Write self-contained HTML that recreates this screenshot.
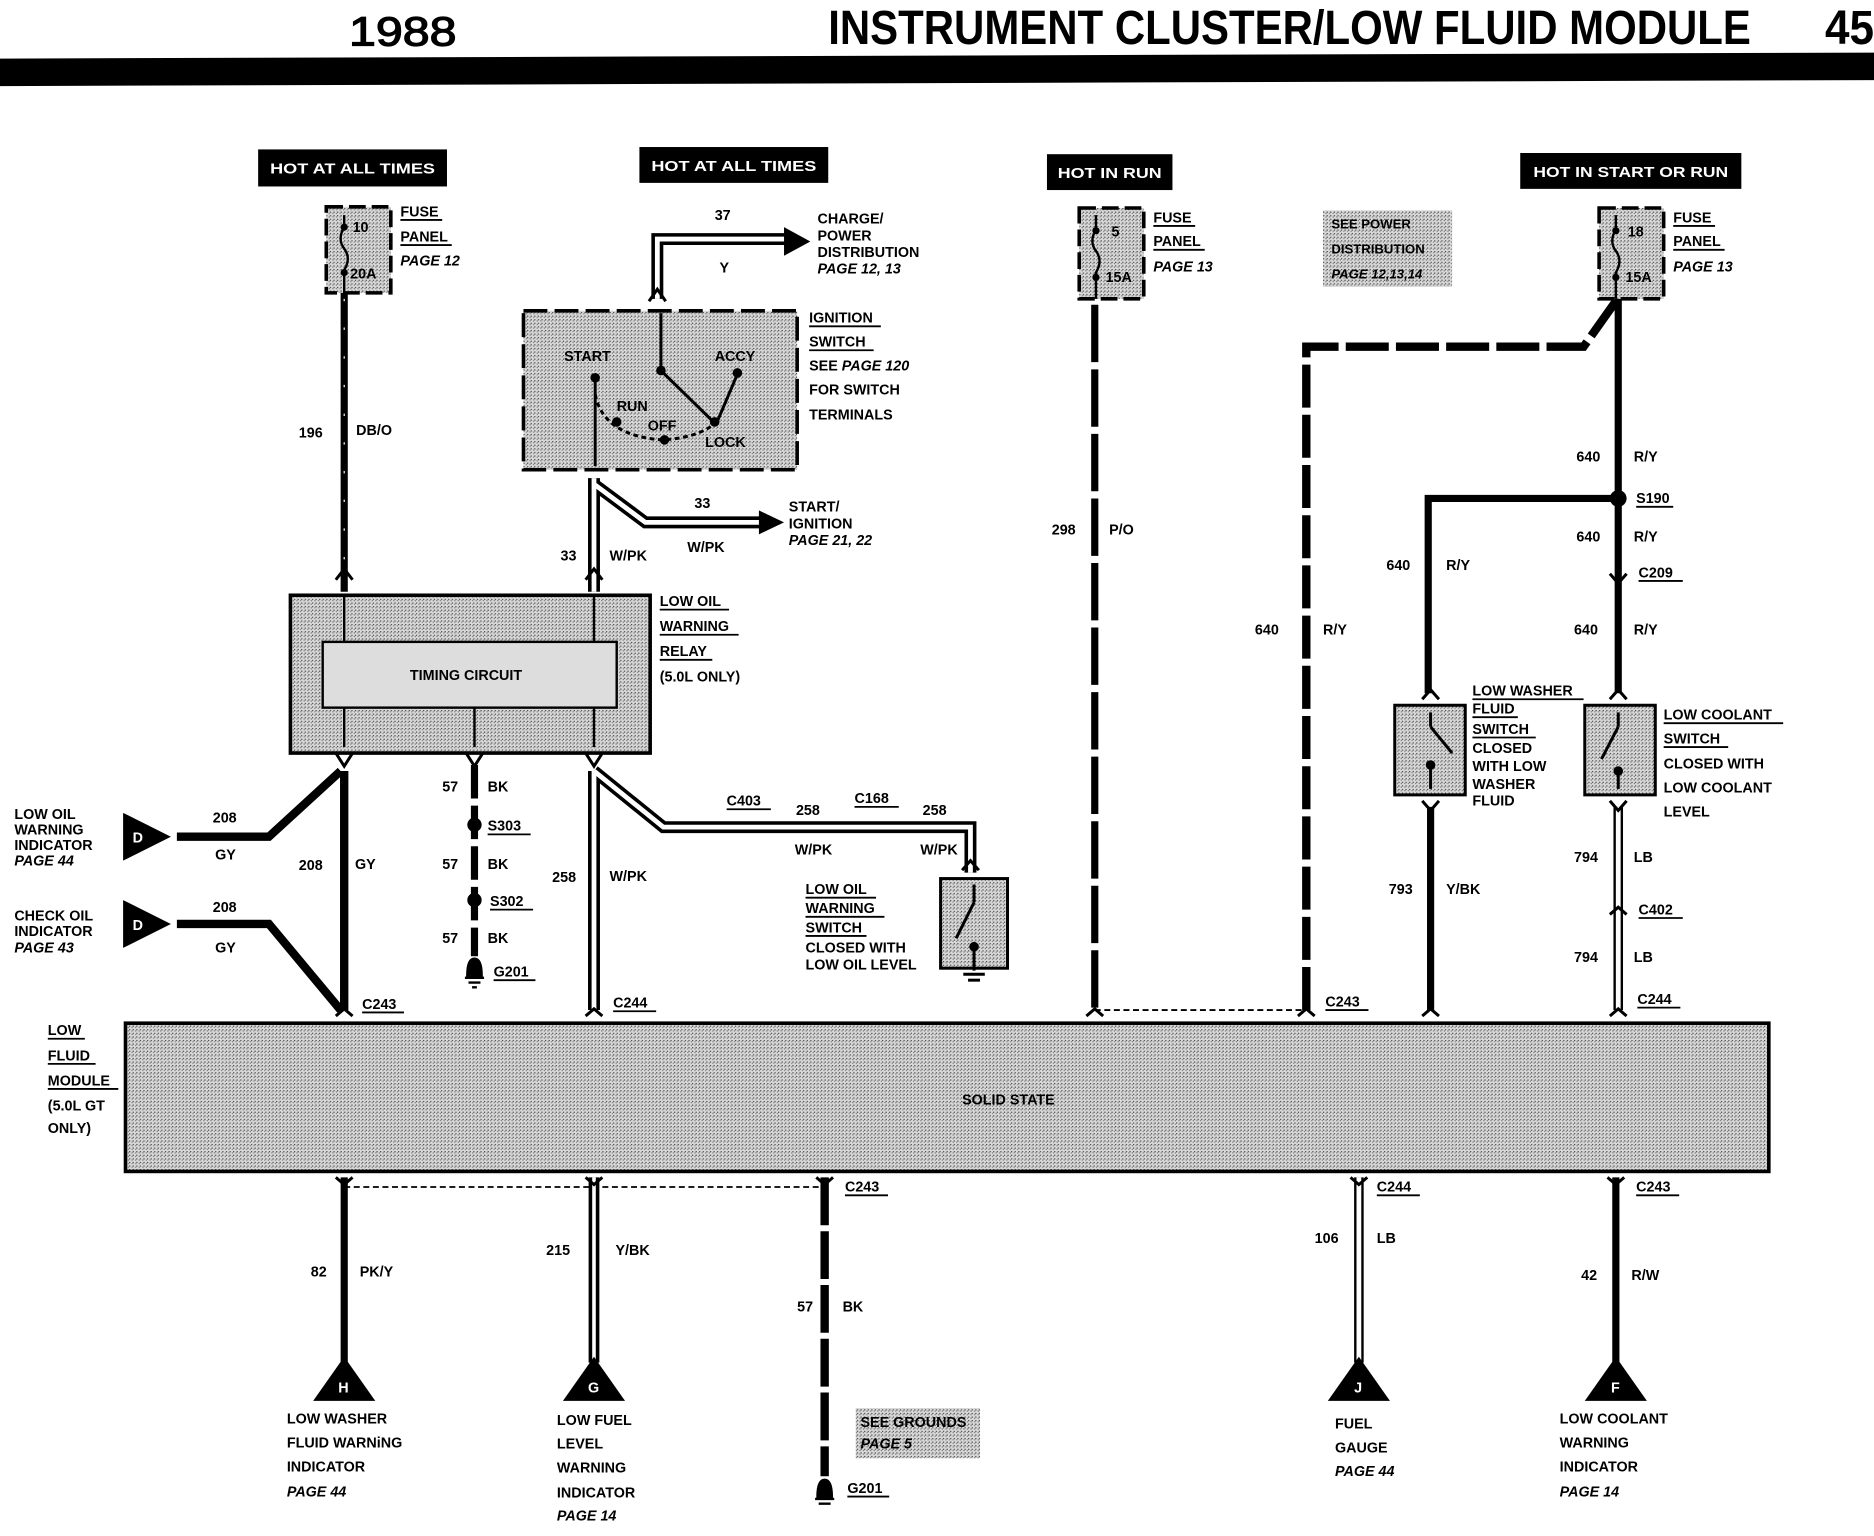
<!DOCTYPE html>
<html><head><meta charset="utf-8"><style>
html,body{margin:0;padding:0;background:#fff}
svg{display:block}
text{font-family:"Liberation Sans",sans-serif;font-weight:bold;font-size:12px;fill:#000}
.i{font-style:italic;font-weight:bold}
.w{fill:#fff}
</style></head><body>
<svg width="1874" height="1536" viewBox="0 0 1568 1285" preserveAspectRatio="none" xmlns="http://www.w3.org/2000/svg">
<defs>
<pattern id="g" width="3" height="3" patternUnits="userSpaceOnUse"><rect width="3" height="3" fill="#d8d8d8"/><rect width="1" height="1" fill="#444"/><rect x="2" y="1" width="1" height="1" fill="#777"/></pattern>
</defs>
<!-- header -->
<text x="292" y="38" style="font-size:34px;font-weight:normal" textLength="90" lengthAdjust="spacingAndGlyphs" stroke="#000" stroke-width="1">1988</text>
<text x="693" y="37" style="font-size:40px" textLength="772" lengthAdjust="spacingAndGlyphs">INSTRUMENT CLUSTER/LOW FLUID MODULE</text>
<text x="1527" y="37" style="font-size:40px" textLength="41" lengthAdjust="spacingAndGlyphs">45</text>
<polygon points="0,49 1568,44 1568,67 0,72" fill="#000"/>

<!-- source labels -->
<rect x="216" y="125" width="158" height="31" fill="#000"/><text class="w" x="226" y="145" textLength="138" lengthAdjust="spacingAndGlyphs">HOT AT ALL TIMES</text>
<rect x="535" y="123" width="158" height="30" fill="#000"/><text class="w" x="545" y="143" textLength="138" lengthAdjust="spacingAndGlyphs">HOT AT ALL TIMES</text>
<rect x="876" y="129" width="105" height="30" fill="#000"/><text class="w" x="885" y="149" textLength="87" lengthAdjust="spacingAndGlyphs">HOT IN RUN</text>
<rect x="1272" y="128" width="185" height="30" fill="#000"/><text class="w" x="1283" y="148" textLength="163" lengthAdjust="spacingAndGlyphs">HOT IN START OR RUN</text>

<!-- fuses -->
<g fill="url(#g)" stroke="#000" stroke-width="3" stroke-dasharray="14 5">
<rect x="273" y="173" width="54" height="72"/>
<rect x="903" y="174" width="54" height="76"/>
<rect x="1338" y="174" width="54" height="76"/>
</g>
<g stroke="#000" stroke-width="2" fill="none">
<path d="M288 180 v10 q-6 10 0 18 q6 8 0 18 v19"/>
<path d="M917 180 v12 q-6 10 0 18 q6 8 0 18 v22"/>
<path d="M1352 180 v12 q-6 10 0 18 q6 8 0 18 v22"/>
</g>
<g fill="#000"><circle cx="288" cy="190" r="3"/><circle cx="288" cy="228" r="3"/><circle cx="917" cy="193" r="3"/><circle cx="917" cy="232" r="3"/><circle cx="1352" cy="193" r="3"/><circle cx="1352" cy="232" r="3"/></g>
<text x="295" y="194">10</text><text x="293" y="233">20A</text>
<text x="930" y="198">5</text><text x="925" y="236">15A</text>
<text x="1362" y="198">18</text><text x="1360" y="236">15A</text>
<text x="335" y="181">FUSE</text><text x="335" y="202">PANEL</text><text class="i" x="335" y="222">PAGE 12</text>
<text x="965" y="186">FUSE</text><text x="965" y="206">PANEL</text><text class="i" x="965" y="227">PAGE 13</text>
<text x="1400" y="186">FUSE</text><text x="1400" y="206">PANEL</text><text class="i" x="1400" y="227">PAGE 13</text>
<g stroke="#000" stroke-width="1.5"><line x1="335" y1="184" x2="370" y2="184"/><line x1="335" y1="205" x2="378" y2="205"/><line x1="965" y1="189" x2="1000" y2="189"/><line x1="965" y1="209" x2="1008" y2="209"/><line x1="1400" y1="189" x2="1435" y2="189"/><line x1="1400" y1="209" x2="1443" y2="209"/></g>

<rect x="1107" y="176" width="108" height="64" fill="url(#g)"/>
<text x="1114" y="191" style="font-size:11px">SEE POWER</text><text x="1114" y="212" style="font-size:11px">DISTRIBUTION</text><text class="i" x="1114" y="233" style="font-size:11px">PAGE 12,13,14</text>

<!-- wire 196 -->
<line x1="288" y1="245" x2="288" y2="495" stroke="#000" stroke-width="6"/>
<line x1="288" y1="250" x2="288" y2="490" stroke="#fff" stroke-width="1" stroke-dasharray="2 22"/>
<text x="250" y="366">196</text><text x="298" y="364">DB/O</text>

<!-- wire 37 -->
<path d="M550 250 V200 H660" stroke="#000" stroke-width="10" fill="none"/>
<path d="M550 250 V200 H660" stroke="#fff" stroke-width="4" fill="none"/>
<polygon points="656,190 678,202 656,214" fill="#000"/>
<text x="598" y="184">37</text><text x="602" y="228">Y</text>
<text x="684" y="187">CHARGE/</text><text x="684" y="201">POWER</text><text x="684" y="215">DISTRIBUTION</text><text class="i" x="684" y="229">PAGE 12, 13</text>

<!-- ignition switch -->
<rect x="438" y="260" width="229" height="133" fill="url(#g)" stroke="#000" stroke-width="3" stroke-dasharray="20 6"/>
<g stroke="#000" stroke-width="2.5" fill="none">
<line x1="553" y1="262" x2="553" y2="310"/><line x1="553" y1="310" x2="597" y2="353"/>
<line x1="498" y1="316" x2="498" y2="390"/>
<line x1="617" y1="313" x2="600" y2="353"/>
<path d="M498 330 Q505 365 555 368 Q585 366 600 353" stroke-dasharray="4 3"/>
</g>
<g fill="#000"><circle cx="498" cy="316" r="4"/><circle cx="553" cy="310" r="4"/><circle cx="617" cy="312" r="4"/><circle cx="516" cy="353" r="4"/><circle cx="556" cy="368" r="4"/><circle cx="598" cy="353" r="4"/></g>
<text x="472" y="302">START</text><text x="598" y="302">ACCY</text><text x="516" y="344">RUN</text><text x="542" y="360">OFF</text><text x="590" y="374">LOCK</text>
<text x="677" y="270">IGNITION</text><text x="677" y="290">SWITCH</text><text x="677" y="310">SEE <tspan class="i">PAGE 120</tspan></text><text x="677" y="330">FOR SWITCH</text><text x="677" y="351">TERMINALS</text>
<g stroke="#000" stroke-width="1.5"><line x1="677" y1="273" x2="737" y2="273"/><line x1="677" y1="293" x2="731" y2="293"/></g>

<!-- wire 33 -->
<path d="M497 400 V495 M497 405 L540 437 H640" stroke="#000" stroke-width="10" fill="none"/>
<path d="M497 400 V495 M497 405 L540 437 H640" stroke="#fff" stroke-width="4" fill="none"/>
<polygon points="635,427 656,437 635,447" fill="#000"/>
<text x="581" y="425">33</text><text x="575" y="462">W/PK</text><text x="469" y="469">33</text><text x="510" y="469">W/PK</text>
<text x="660" y="428">START/</text><text x="660" y="442">IGNITION</text><text class="i" x="660" y="456">PAGE 21, 22</text>

<!-- relay -->
<rect x="243" y="498" width="301" height="132" fill="url(#g)" stroke="#000" stroke-width="3"/>
<rect x="270" y="537" width="246" height="55" fill="#ddd" stroke="#000" stroke-width="2"/>
<text x="343" y="569">TIMING CIRCUIT</text>
<g stroke="#000" stroke-width="2"><line x1="288" y1="498" x2="288" y2="537"/><line x1="497" y1="498" x2="497" y2="537"/><line x1="288" y1="592" x2="288" y2="625"/><line x1="397" y1="592" x2="397" y2="625"/><line x1="497" y1="592" x2="497" y2="625"/></g>
<text x="552" y="507">LOW OIL</text><text x="552" y="528">WARNING</text><text x="552" y="549">RELAY</text><text x="552" y="570">(5.0L ONLY)</text>
<g stroke="#000" stroke-width="1.5"><line x1="552" y1="510" x2="610" y2="510"/><line x1="552" y1="531" x2="618" y2="531"/><line x1="552" y1="552" x2="596" y2="552"/></g>

<!-- wire 208 -->
<g stroke="#000" stroke-width="7" fill="none">
<line x1="288" y1="645" x2="288" y2="845"/>
<path d="M148 700 H225 L285 645"/><path d="M148 773 H225 L285 845"/>
</g>
<polygon points="103,680 143,700 103,720" fill="#000"/><polygon points="103,753 143,773 103,793" fill="#000"/>
<text class="w" x="111" y="705">D</text><text class="w" x="111" y="778">D</text>
<text x="178" y="688">208</text><text x="180" y="719">GY</text><text x="178" y="763">208</text><text x="180" y="797">GY</text>
<text x="250" y="728">208</text><text x="297" y="727">GY</text>
<text x="12" y="685">LOW OIL</text><text x="12" y="698">WARNING</text><text x="12" y="711">INDICATOR</text><text class="i" x="12" y="724">PAGE 44</text>
<text x="12" y="770">CHECK OIL</text><text x="12" y="783">INDICATOR</text><text class="i" x="12" y="797">PAGE 43</text>
<text x="303" y="844">C243</text><line x1="303" y1="847" x2="338" y2="847" stroke="#000" stroke-width="1.5"/>

<!-- ground 57 -->
<line x1="397" y1="640" x2="397" y2="800" stroke="#000" stroke-width="6" stroke-dasharray="28 6"/>
<circle cx="397" cy="690" r="6"/><circle cx="397" cy="753" r="6"/>
<path d="M391 816 Q391 802 397 802 Q403 802 403 816 Z M389 818 h16 M392 822 h10 M395 826 h4" stroke="#000" stroke-width="2" fill="#000"/>
<text x="370" y="662">57</text><text x="408" y="662">BK</text><text x="408" y="695">S303</text>
<text x="370" y="727">57</text><text x="408" y="727">BK</text><text x="410" y="758">S302</text>
<text x="370" y="789">57</text><text x="408" y="789">BK</text><text x="413" y="817">G201</text>
<g stroke="#000" stroke-width="1.5"><line x1="408" y1="698" x2="444" y2="698"/><line x1="410" y1="761" x2="446" y2="761"/><line x1="413" y1="820" x2="448" y2="820"/></g>

<!-- wire 258 -->
<path d="M497 645 V845 M497 645 L555 692 H812 V730" stroke="#000" stroke-width="10" fill="none"/>
<path d="M497 645 V845 M497 645 L555 692 H812 V730" stroke="#fff" stroke-width="4" fill="none"/>
<text x="462" y="738">258</text><text x="510" y="737">W/PK</text>
<text x="608" y="674">C403</text><text x="666" y="682">258</text><text x="715" y="672">C168</text><text x="772" y="682">258</text>
<text x="665" y="715">W/PK</text><text x="770" y="715">W/PK</text>
<g stroke="#000" stroke-width="1.5"><line x1="608" y1="677" x2="645" y2="677"/><line x1="715" y1="675" x2="752" y2="675"/></g>
<text x="513" y="843">C244</text><line x1="513" y1="846" x2="549" y2="846" stroke="#000" stroke-width="1.5"/>
<rect x="787" y="735" width="56" height="75" fill="url(#g)" stroke="#000" stroke-width="2.5"/>
<g stroke="#000" stroke-width="2.5"><line x1="815" y1="740" x2="815" y2="755"/><line x1="815" y1="755" x2="800" y2="785"/><line x1="815" y1="790" x2="815" y2="812"/><line x1="806" y1="815" x2="824" y2="815"/><line x1="810" y1="820" x2="820" y2="820"/></g>
<circle cx="815" cy="792" r="4"/>
<text x="674" y="748">LOW OIL</text><text x="674" y="764">WARNING</text><text x="674" y="780">SWITCH</text><text x="674" y="797">CLOSED WITH</text><text x="674" y="811">LOW OIL LEVEL</text>
<g stroke="#000" stroke-width="1.5"><line x1="674" y1="751" x2="733" y2="751"/><line x1="674" y1="767" x2="740" y2="767"/><line x1="674" y1="783" x2="725" y2="783"/></g>

<!-- module -->
<rect x="105" y="856" width="1375" height="124" fill="url(#g)" stroke="#000" stroke-width="3"/>
<text x="805" y="924">SOLID STATE</text>
<text x="40" y="866">LOW</text><text x="40" y="887">FLUID</text><text x="40" y="908">MODULE</text><text x="40" y="929">(5.0L GT</text><text x="40" y="948">ONLY)</text>
<g stroke="#000" stroke-width="1.5"><line x1="40" y1="869" x2="71" y2="869"/><line x1="40" y1="890" x2="80" y2="890"/><line x1="40" y1="911" x2="99" y2="911"/></g>

<!-- wire 298 -->
<line x1="916" y1="255" x2="916" y2="845" stroke="#000" stroke-width="6" stroke-dasharray="48 6"/>
<text x="880" y="447">298</text><text x="928" y="447">P/O</text>
<line x1="916" y1="845" x2="1093" y2="845" stroke="#000" stroke-width="1.5" stroke-dasharray="5 3"/>

<!-- wire 640 dashed -->
<path d="M1093 845 V290 H1325 L1352 252" stroke="#000" stroke-width="7" fill="none" stroke-dasharray="36 6"/>
<text x="1050" y="531">640</text><text x="1107" y="531">R/Y</text>
<text x="1109" y="842">C243</text><line x1="1109" y1="845" x2="1145" y2="845" stroke="#000" stroke-width="1.5"/>

<!-- wire 640 solid -->
<line x1="1354" y1="250" x2="1354" y2="580" stroke="#000" stroke-width="6"/>
<path d="M1354 417 H1195 V580" stroke="#000" stroke-width="6" fill="none"/>
<circle cx="1354" cy="417" r="7"/>
<text x="1319" y="386">640</text><text x="1367" y="386">R/Y</text>
<text x="1369" y="421">S190</text><line x1="1369" y1="424" x2="1400" y2="424" stroke="#000" stroke-width="1.5"/>
<text x="1319" y="453">640</text><text x="1367" y="453">R/Y</text>
<text x="1371" y="483">C209</text><line x1="1371" y1="486" x2="1408" y2="486" stroke="#000" stroke-width="1.5"/>
<text x="1317" y="531">640</text><text x="1367" y="531">R/Y</text>
<text x="1160" y="477">640</text><text x="1210" y="477">R/Y</text>

<!-- switches -->
<rect x="1167" y="590" width="59" height="75" fill="url(#g)" stroke="#000" stroke-width="2.5"/>
<rect x="1326" y="590" width="59" height="75" fill="url(#g)" stroke="#000" stroke-width="2.5"/>
<g stroke="#000" stroke-width="2.5"><line x1="1197" y1="596" x2="1197" y2="608"/><line x1="1197" y1="608" x2="1215" y2="630"/><line x1="1197" y1="640" x2="1197" y2="660"/><line x1="1354" y1="596" x2="1354" y2="608"/><line x1="1354" y1="608" x2="1340" y2="635"/><line x1="1354" y1="645" x2="1354" y2="660"/></g>
<circle cx="1197" cy="640" r="4"/><circle cx="1354" cy="645" r="4"/>
<text x="1232" y="582">LOW WASHER</text><text x="1232" y="597">FLUID</text><text x="1232" y="614">SWITCH</text><text x="1232" y="630">CLOSED</text><text x="1232" y="645">WITH LOW</text><text x="1232" y="660">WASHER</text><text x="1232" y="674">FLUID</text>
<text x="1392" y="602">LOW COOLANT</text><text x="1392" y="622">SWITCH</text><text x="1392" y="643">CLOSED WITH</text><text x="1392" y="663">LOW COOLANT</text><text x="1392" y="683">LEVEL</text>
<g stroke="#000" stroke-width="1.5"><line x1="1232" y1="585" x2="1325" y2="585"/><line x1="1232" y1="600" x2="1270" y2="600"/><line x1="1232" y1="617" x2="1285" y2="617"/><line x1="1392" y1="605" x2="1492" y2="605"/><line x1="1392" y1="625" x2="1446" y2="625"/></g>

<line x1="1197" y1="675" x2="1197" y2="845" stroke="#000" stroke-width="6"/>
<text x="1162" y="748">793</text><text x="1210" y="748">Y/BK</text>
<path d="M1354 675 V845" stroke="#000" stroke-width="8"/><path d="M1354 675 V845" stroke="#fff" stroke-width="4"/>
<text x="1317" y="721">794</text><text x="1367" y="721">LB</text>
<text x="1371" y="765">C402</text><line x1="1371" y1="768" x2="1408" y2="768" stroke="#000" stroke-width="1.5"/>
<text x="1317" y="805">794</text><text x="1367" y="805">LB</text>
<text x="1370" y="840">C244</text><line x1="1370" y1="843" x2="1406" y2="843" stroke="#000" stroke-width="1.5"/>

<!-- bottom -->
<line x1="288" y1="993" x2="690" y2="993" stroke="#000" stroke-width="1.5" stroke-dasharray="5 3"/>
<line x1="288" y1="985" x2="288" y2="1140" stroke="#000" stroke-width="6"/>
<text x="260" y="1068">82</text><text x="301" y="1068">PK/Y</text>
<polygon points="288,1135 262,1172 314,1172" fill="#000"/><text class="w" x="283" y="1165">H</text>
<text x="240" y="1191">LOW WASHER</text><text x="240" y="1211">FLUID WARNiNG</text><text x="240" y="1231">INDICATOR</text><text class="i" x="240" y="1252">PAGE 44</text>

<path d="M497 985 V1140" stroke="#000" stroke-width="9"/><path d="M497 985 V1140" stroke="#fff" stroke-width="3"/>
<text x="457" y="1050">215</text><text x="515" y="1050">Y/BK</text>
<polygon points="497,1135 471,1172 523,1172" fill="#000"/><text class="w" x="492" y="1165">G</text>
<text x="466" y="1192">LOW FUEL</text><text x="466" y="1212">LEVEL</text><text x="466" y="1232">WARNING</text><text x="466" y="1253">INDICATOR</text><text class="i" x="466" y="1272">PAGE 14</text>

<line x1="690" y1="985" x2="690" y2="1235" stroke="#000" stroke-width="7" stroke-dasharray="40 5"/>
<text x="707" y="997">C243</text><line x1="707" y1="1000" x2="743" y2="1000" stroke="#000" stroke-width="1.5"/>
<text x="667" y="1097">57</text><text x="705" y="1097">BK</text>
<path d="M684 1252 Q684 1238 690 1238 Q696 1238 696 1252 Z M682 1254 h16 M685 1258 h10" stroke="#000" stroke-width="2" fill="#000"/>
<text x="709" y="1249">G201</text><line x1="709" y1="1252" x2="744" y2="1252" stroke="#000" stroke-width="1.5"/>
<rect x="716" y="1178" width="104" height="42" fill="url(#g)"/>
<text x="720" y="1194">SEE GROUNDS</text><text class="i" x="720" y="1212">PAGE 5</text>

<path d="M1137 985 V1140" stroke="#000" stroke-width="8"/><path d="M1137 985 V1140" stroke="#fff" stroke-width="4"/>
<text x="1152" y="997">C244</text><line x1="1152" y1="1000" x2="1188" y2="1000" stroke="#000" stroke-width="1.5"/>
<text x="1100" y="1040">106</text><text x="1152" y="1040">LB</text>
<polygon points="1137,1135 1111,1172 1163,1172" fill="#000"/><text class="w" x="1133" y="1165">J</text>
<text x="1117" y="1195">FUEL</text><text x="1117" y="1215">GAUGE</text><text class="i" x="1117" y="1235">PAGE 44</text>

<line x1="1352" y1="985" x2="1352" y2="1140" stroke="#000" stroke-width="6"/>
<text x="1369" y="997">C243</text><line x1="1369" y1="1000" x2="1405" y2="1000" stroke="#000" stroke-width="1.5"/>
<text x="1323" y="1071">42</text><text x="1365" y="1071">R/W</text>
<polygon points="1352,1135 1326,1172 1378,1172" fill="#000"/><text class="w" x="1348" y="1165">F</text>
<text x="1305" y="1191">LOW COOLANT</text><text x="1305" y="1211">WARNING</text><text x="1305" y="1231">INDICATOR</text><text class="i" x="1305" y="1252">PAGE 14</text>

<!-- connector tips -->
<g stroke="#000" stroke-width="2.5" fill="none">
<path d="M281 485 l7 -9 l7 9 M490 485 l7 -9 l7 9 M281 630 l7 11 l7 -11 M390 630 l7 11 l7 -11 M490 630 l7 11 l7 -11 M281 850 l7 -6 l7 6 M490 850 l7 -6 l7 6 M909 850 l7 -6 l7 6 M1086 850 l7 -6 l7 6 M1190 850 l7 -6 l7 6 M1347 850 l7 -6 l7 6 M281 985 l7 6 l7 -6 M490 985 l7 6 l7 -6 M683 985 l7 6 l7 -6 M1130 985 l7 6 l7 -6 M1345 985 l7 6 l7 -6 M1190 585 l7 -8 l7 8 M1347 585 l7 -8 l7 8 M1190 670 l7 8 l7 -8 M1347 670 l7 8 l7 -8 M543 252 l7 -10 l7 10 M805 728 l7 -8 l7 8 M1347 480 l7 8 l7 -8 M1347 765 l7 -6 l7 6"/>
</g>
</svg>
</body></html>
